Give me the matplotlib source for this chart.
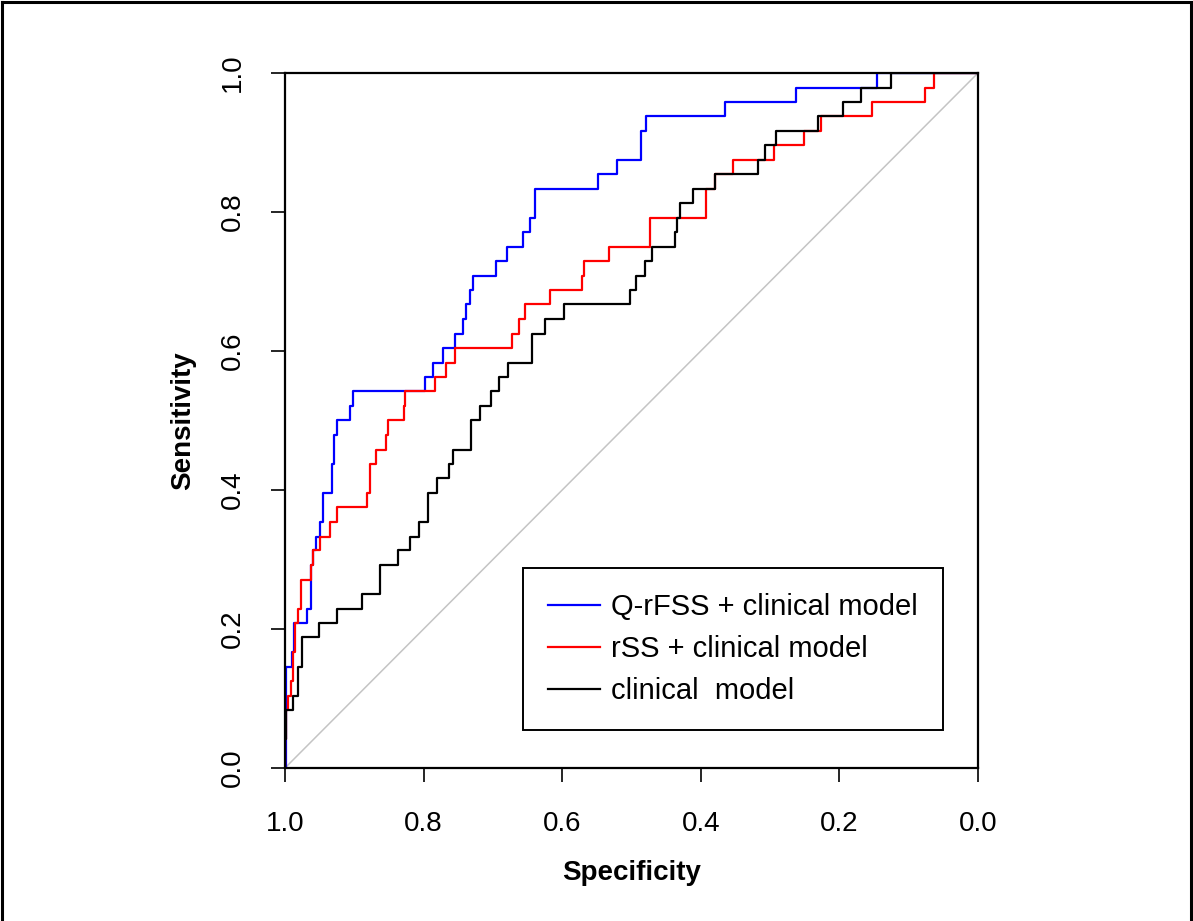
import matplotlib
matplotlib.use("Agg")
import matplotlib.pyplot as plt
from matplotlib.lines import Line2D

plt.rcParams["font.family"] = ["Liberation Sans", "DejaVu Sans"]

# ROC step vertices (specificity, sensitivity)
spec_qrfss = [1.0, 0.999, 0.990, 0.987, 0.968, 0.963, 0.960, 0.955, 0.949, 0.945,
              0.932, 0.930, 0.925, 0.906, 0.902, 0.798, 0.787, 0.772, 0.755, 0.743,
              0.739, 0.733, 0.729, 0.696, 0.680, 0.657, 0.646, 0.639, 0.549, 0.521,
              0.486, 0.479, 0.365, 0.262, 0.146, 0.0]
sens_qrfss = [0.0, 0.146, 0.167, 0.208, 0.229, 0.292, 0.313, 0.333, 0.354, 0.396,
              0.438, 0.479, 0.500, 0.521, 0.542, 0.563, 0.583, 0.604, 0.625, 0.646,
              0.667, 0.688, 0.708, 0.729, 0.750, 0.771, 0.792, 0.833, 0.854, 0.875,
              0.917, 0.938, 0.958, 0.979, 1.0, 1.0]

spec_rss = [1.0, 1.0, 0.998, 0.995, 0.991, 0.988, 0.985, 0.981, 0.977, 0.962,
            0.959, 0.949, 0.935, 0.925, 0.881, 0.878, 0.869, 0.854, 0.852, 0.828,
            0.827, 0.784, 0.767, 0.755, 0.673, 0.663, 0.654, 0.618, 0.571, 0.568,
            0.532, 0.473, 0.392, 0.380, 0.353, 0.294, 0.251, 0.226, 0.153, 0.077,
            0.064, 0.0]
sens_rss = [0.0, 0.042, 0.083, 0.104, 0.125, 0.167, 0.208, 0.229, 0.271, 0.292,
            0.313, 0.333, 0.354, 0.375, 0.396, 0.438, 0.458, 0.479, 0.500, 0.521,
            0.542, 0.563, 0.583, 0.604, 0.625, 0.646, 0.667, 0.688, 0.708, 0.729,
            0.750, 0.792, 0.833, 0.854, 0.875, 0.896, 0.917, 0.938, 0.958, 0.979,
            1.0, 1.0]

spec_clin = [1.0, 1.0, 0.998, 0.988, 0.981, 0.975, 0.951, 0.925, 0.889, 0.863,
             0.837, 0.820, 0.807, 0.793, 0.781, 0.764, 0.758, 0.732, 0.719, 0.703,
             0.691, 0.678, 0.644, 0.625, 0.598, 0.502, 0.493, 0.481, 0.470, 0.437,
             0.434, 0.430, 0.411, 0.380, 0.317, 0.307, 0.291, 0.231, 0.195, 0.169,
             0.126, 0.0]
sens_clin = [0.0, 0.042, 0.083, 0.104, 0.146, 0.188, 0.208, 0.229, 0.250, 0.292,
             0.313, 0.333, 0.354, 0.396, 0.417, 0.438, 0.458, 0.500, 0.521, 0.542,
             0.563, 0.583, 0.625, 0.646, 0.667, 0.688, 0.708, 0.729, 0.750, 0.771,
             0.792, 0.813, 0.833, 0.854, 0.875, 0.896, 0.917, 0.938, 0.958, 0.979,
             1.0, 1.0]

labels = ["Q-rFSS + clinical model", "rSS + clinical model", "clinical  model"]
colors = ["#0000ff", "#ff0000", "#000000"]
ticks = [0.0, 0.2, 0.4, 0.6, 0.8, 1.0]

fig = plt.figure(figsize=(11.93, 9.21), dpi=100)
ax = fig.add_axes([285 / 1193, 153 / 921, 693 / 1193, 695 / 921])

# chance line
ax.plot([1, 0], [0, 1], color="#c4c4c4", lw=1.1, zorder=1)

curves = [(spec_qrfss, sens_qrfss), (spec_rss, sens_rss), (spec_clin, sens_clin)]
for (sp, se), c, lab in zip(curves, colors, labels):
    ax.plot(sp, se, drawstyle="steps-post", color=c, lw=1.6, label=lab, zorder=2)

ax.set_xlim(1, 0)
ax.set_ylim(0, 1)
ax.set_xticks(ticks)
ax.set_yticks(ticks)
ax.set_xticklabels([f"{t:.1f}" for t in ticks])
ax.set_yticklabels([f"{t:.1f}" for t in ticks])
ax.tick_params(direction="out", length=10, width=1.2, labelsize=20, pad=21)
ax.tick_params(axis="y", labelrotation=90, pad=18)
for lbl in ax.get_yticklabels():
    lbl.set_va("center")
for s in ax.spines.values():
    s.set_linewidth(1.6)

ax.set_xlabel("Specificity", fontsize=20, fontweight="bold")
ax.set_ylabel("Sensitivity", fontsize=20, fontweight="bold")
ax.xaxis.set_label_coords(0.5, -0.151)
ax.xaxis.label.set_va("center")
ax.yaxis.set_label_coords(-0.147, 0.5)
ax.yaxis.label.set_va("center")

handles = [Line2D([], [], color=c, lw=1.6) for c in colors]
leg = ax.legend(handles, labels, loc="lower right", bbox_to_anchor=(0.9495, 0.0547),
                fontsize=21, frameon=True, fancybox=False, framealpha=1,
                edgecolor="black", handlelength=1.78, handletextpad=0.41,
                borderpad=0.85, labelspacing=0.48, borderaxespad=0)
leg.get_frame().set_linewidth(1.4)

# outer frame (left, top, right)
for xs, ys in [([0.002, 0.002], [0, 0.998]), ([0.002, 0.998], [0.998, 0.998]),
               ([0.998, 0.998], [0, 0.998])]:
    fig.add_artist(Line2D(xs, ys, transform=fig.transFigure, color="black", lw=2.2))

fig.savefig("out.png", dpi=100)
